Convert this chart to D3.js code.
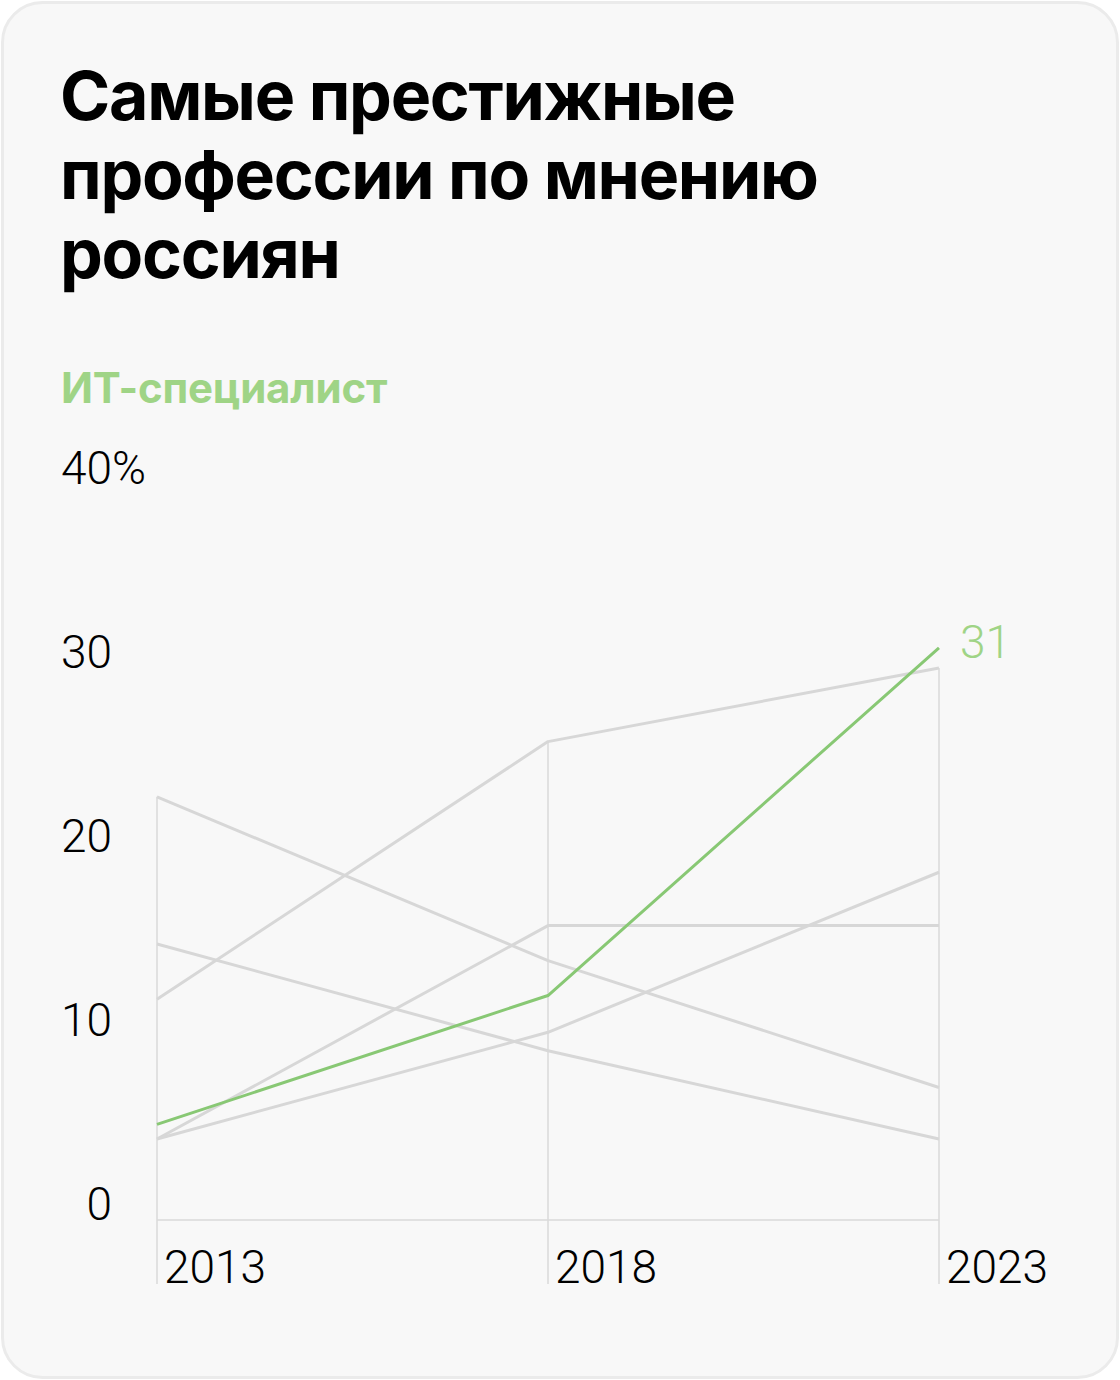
<!DOCTYPE html>
<html><head><meta charset="utf-8">
<script src="https://cdn.jsdelivr.net/npm/d3@7"></script>
<style>html,body{margin:0;padding:0;background:#fff;}svg{display:block;}</style>
</head><body>
<script>
const years = [2013, 2018, 2023];
const highlightName = "ИТ-специалист";
const highlightValues = [5.2, 12.2, 31.1];
const highlightLabel = "31";
const otherSeries = [
  [23, 14.1, 7.2],
  [15, 9.2, 4.4],
  [12, 26, 30],
  [4.4, 16, 16],
  [4.4, 10.2, 18.9]
];
const yTicks = [0, 10, 20, 30, 40];
const titleLines = ["Самые престижные", "профессии по мнению", "россиян"];

const W = 1120, H = 1380;
const svg = d3.select("body").append("svg").attr("width", W).attr("height", H);

svg.append("rect").attr("x", 2.5).attr("y", 2.5).attr("width", W - 5).attr("height", H - 5)
  .attr("rx", 40).attr("fill", "#f8f8f8").attr("stroke", "#ebebeb").attr("stroke-width", 3);

const title = svg.append("text").attr("font-family", "Inter, 'Liberation Sans', sans-serif")
  .attr("font-weight", 700).attr("font-size", 68).attr("fill", "#000").attr("letter-spacing", -1.3);
titleLines.forEach((t, i) => title.append("tspan").attr("x", 60).attr("y", 120 + i * 79).text(t));

svg.append("text").attr("x", 61).attr("y", 403).attr("font-family", "Inter, sans-serif")
  .attr("font-weight", 700).attr("font-size", 42).attr("fill", "#9fd486").attr("letter-spacing", -0.2)
  .text(highlightName);

const x = d3.scalePoint().domain(years).range([157, 939]);
const y = d3.scaleLinear().domain([0, 40]).range([1220, 484]);

const font = "Roboto, 'Noto Sans', sans-serif";
const fs = 46;

// y tick labels
const yAxis = svg.append("g").attr("font-family", font).attr("font-weight", 300).attr("font-size", fs).attr("fill", "#000");
yTicks.forEach(t => {
  yAxis.append("text").attr("x", 112).attr("y", y(t)).attr("text-anchor", "end").text(t);
  if (t === 40) yAxis.append("text").attr("x", 112).attr("y", y(t)).text("%");
});

// vertical grid lines from top of gray max to below
years.forEach((yr, i) => {
  const maxV = d3.max(otherSeries, s => s[i]);
  svg.append("line").attr("x1", x(yr)).attr("x2", x(yr)).attr("y1", y(maxV)).attr("y2", 1284)
    .attr("stroke", "#dadada").attr("stroke-width", 1.5);
  svg.append("text").attr("x", x(yr) + 7).attr("y", 1283).attr("font-family", font).attr("font-weight", 300)
    .attr("font-size", fs).attr("fill", "#000").text(yr);
});

// baseline
svg.append("line").attr("x1", x(years[0])).attr("x2", x(years[2])).attr("y1", y(0)).attr("y2", y(0))
  .attr("stroke", "#dadada").attr("stroke-width", 1.5);

const line = d3.line().x((d, i) => x(years[i])).y(d => y(d));

otherSeries.forEach(s => {
  svg.append("path").attr("d", line(s)).attr("fill", "none").attr("stroke", "#d7d7d7")
    .attr("stroke-width", 3).attr("stroke-linejoin", "round");
});

svg.append("path").attr("d", line(highlightValues)).attr("fill", "none").attr("stroke", "#88c874")
  .attr("stroke-width", 3).attr("stroke-linejoin", "round");

svg.append("text").attr("x", x(years[2]) + 21).attr("y", y(highlightValues[2]) + 10)
  .attr("font-family", font).attr("font-weight", 300).attr("font-size", fs).attr("fill", "#9fd486").text(highlightLabel);
</script>
</body></html>
